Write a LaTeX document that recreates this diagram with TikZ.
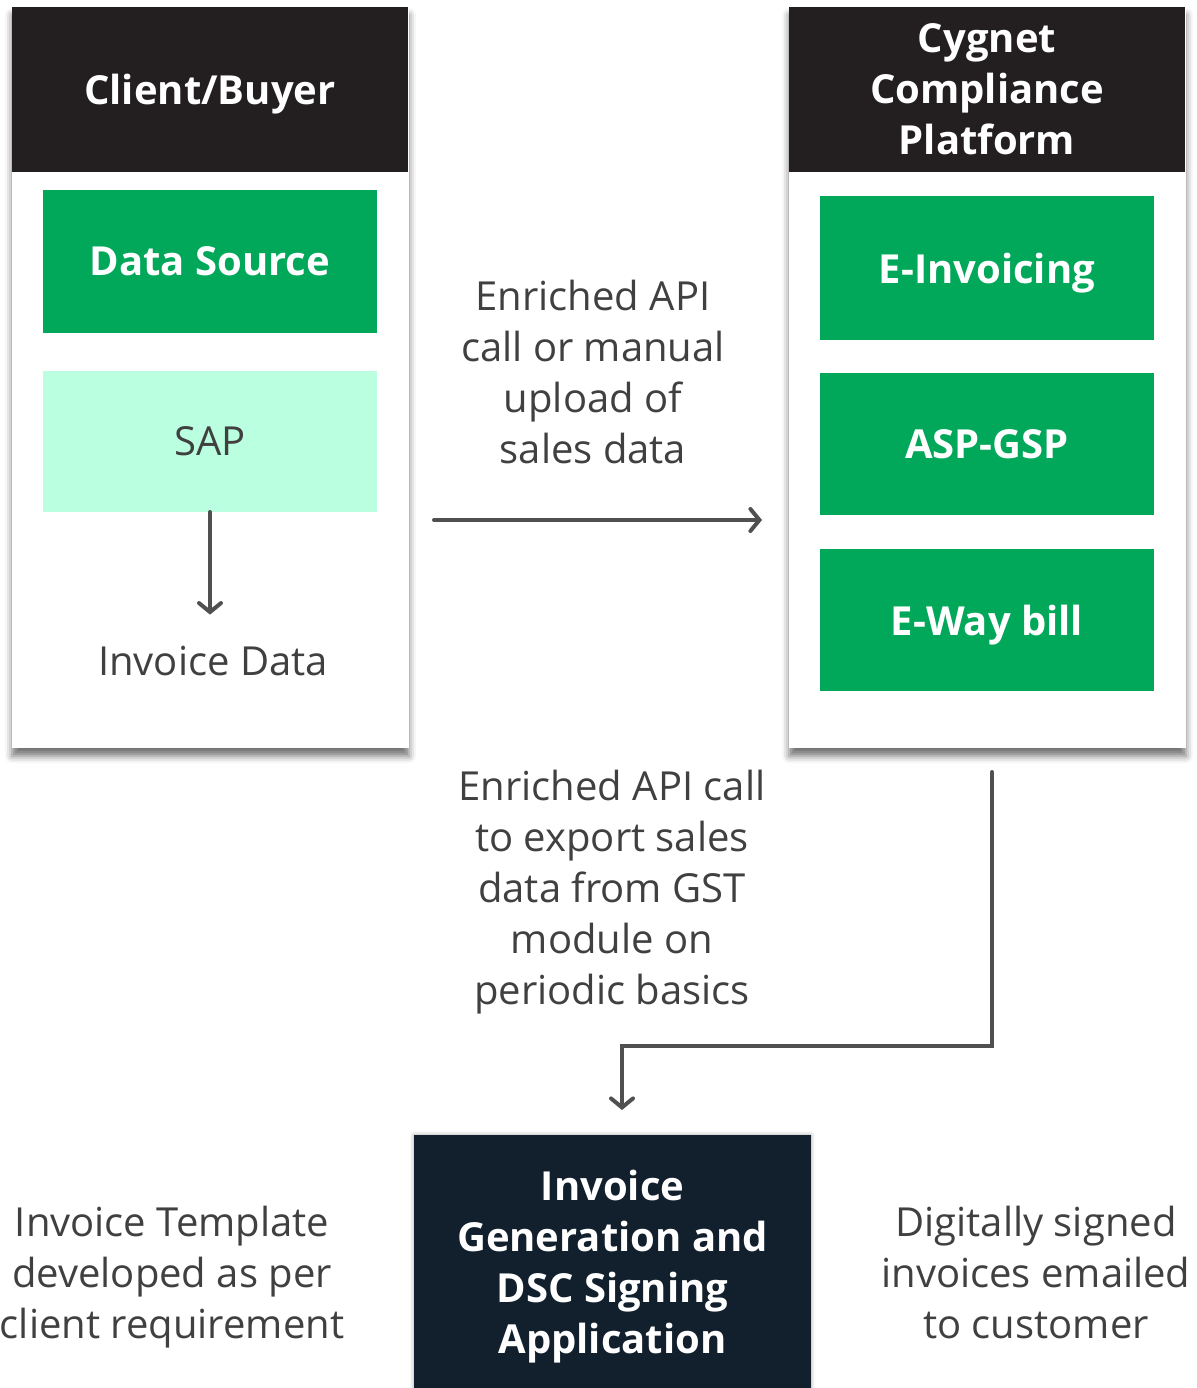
\documentclass[tikz,border=0pt]{standalone}
\usepackage{fontspec}
\setmainfont{Open Sans}
\usetikzlibrary{arrows.meta,shadows.blur}
\definecolor{hdr}{HTML}{231F20}
\definecolor{grn}{HTML}{02A85A}
\definecolor{mint}{HTML}{BAFFDF}
\definecolor{navy}{HTML}{121F2C}
\definecolor{txt}{HTML}{404040}
\definecolor{arrc}{HTML}{505050}
\tikzset{
  box/.style={rectangle, inner sep=0pt, outer sep=0pt, anchor=north west, align=center, text depth=0pt},
  panel/.style={box, fill=white, minimum width=397pt, minimum height=741pt,
    blur shadow={shadow xshift=0pt, shadow yshift=-8pt, shadow blur radius=7pt, shadow opacity=55}},
  header/.style={box, fill=hdr, text=white, minimum width=396pt, minimum height=165pt, font=\bfseries\bigfont},
  greenbox/.style={box, fill=grn, text=white, minimum width=334pt, font=\bfseries\bigfont},
  mintbox/.style={box, fill=mint, text=txt, minimum width=334pt, minimum height=141pt, font=\bigfont},
  darkbox/.style={box, fill=navy, text=white, minimum width=397pt, minimum height=253pt, font=\bfseries\bigfont,
    blur shadow={shadow xshift=0pt, shadow yshift=0pt, shadow blur radius=4pt, shadow opacity=35}},
  label/.style={inner sep=0pt, outer sep=0pt, align=center, text=txt, font=\bigfont},
  arr/.style={draw=arrc, line width=4pt, line cap=round, line join=miter,
    -{Straight Barb[length=9pt,width=22pt,line cap=round]}}
}
\newcommand{\bigfont}{\fontsize{40}{51}\selectfont}
\begin{document}
\begin{tikzpicture}[x=1pt,y=-1pt]
\useasboundingbox (0,0) rectangle (1196,1388);
% left panel
\node[panel] (lbody) at (12,7) {};
\node[header] (lhead) at (12,7) {Client/Buyer};
\node[greenbox, minimum height=143pt] (dsrc) at (43,190) {Data Source};
\node[mintbox] (sap) at (43,371) {SAP};
\node[label, anchor=base] (invdata) at (213,675) {Invoice Data};
\draw[arr, shorten >=31pt] (sap.south) -- (sap.south |- invdata.north);
% right panel
\node[panel] (rbody) at (789,7) {};
\node[header] (rhead) at (789,7) {Cygnet\\Compliance\\Platform};
\node[greenbox, minimum height=144pt] (einv) at (820,196) {E-Invoicing};
\node[greenbox, minimum height=142pt] (asp) at (820,373) {ASP-GSP};
\node[greenbox, minimum height=142pt] (eway) at (820,549) {E-Way bill};
% middle label and arrow
\node[label] (midtxt) at (593,372) {Enriched API\\call or manual\\upload of\\sales data};
\draw[arr, shorten <=25pt, shorten >=27pt] ([yshift=-142.5pt]lbody.east) -- ([yshift=-142.5pt]rbody.west);
% bottom
\node[label] (exptxt) at (612,892) {Enriched API call\\to export sales\\data from GST\\module on\\periodic basics};
\node[darkbox] (gen) at (414,1135) {Invoice\\Generation and\\DSC Signing\\Application};
\draw[arr] ([xshift=4.5pt,yshift=-24pt]rbody.south) -- ++(0,274) -| ([xshift=9.5pt,yshift=25pt]gen.north);
\node[label] (tmpl) at (172,1277) {Invoice Template\\developed as per\\client requirement};
\node[label] (sent) at (1036,1272) {Digitally signed\\invoices emailed\\to customer};
\end{tikzpicture}
\end{document}
